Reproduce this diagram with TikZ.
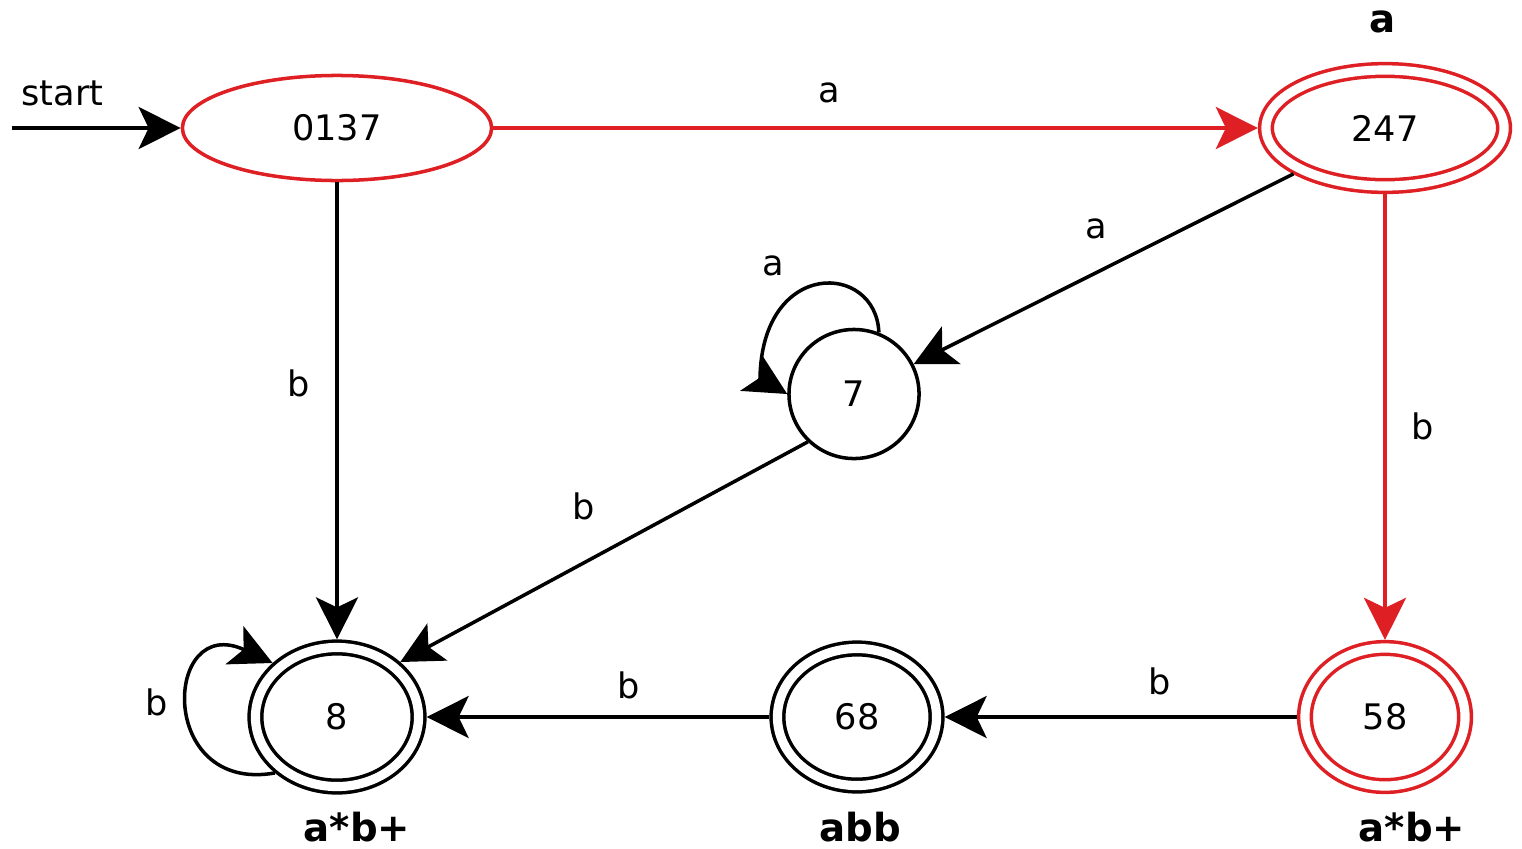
\documentclass[tikz,border=0pt]{standalone}
\usepackage{fontspec}
\setmainfont{DejaVu Sans}
\usepackage{xcolor}
\usepackage{tikz}
\usetikzlibrary{arrows.meta,positioning,shapes.geometric}
\definecolor{dfared}{RGB}{222,32,36}

\begin{document}
\begin{tikzpicture}[
  x=0.01cm, y=0.01cm,
  font=\fontsize{10}{12}\selectfont,
  dstate/.style={draw, ellipse, line width=1pt, inner sep=0pt},
  accept/.style={dstate, double, double distance=2.6pt, outer sep=2.3pt},
  hot/.style={draw=dfared},
  tag/.style={inner sep=0pt, font=\fontsize{11}{13}\selectfont\bfseries},
  lbl/.style={inner sep=0pt},
  arr/.style={-{Stealth[length=0.42cm, width=0.42cm, inset=0.1cm]}, line width=1pt},
  hotarr/.style={arr, draw=dfared}
]
\useasboundingbox (0,0) rectangle (1522,-848);

% states
\node[dstate, hot, minimum width=3.09cm, minimum height=1.05cm] (n0137) at (337,-128) {0137};
\node[accept, hot, minimum width=2.38cm, minimum height=1.16cm] (n247) at (1385,-128) {247};
\node[dstate, minimum width=1.3cm, minimum height=1.29cm] (n7) at (854,-394) {7};
\node[accept, minimum width=1.63cm, minimum height=1.39cm] (n8) at (337,-717) {8};
\node[accept, minimum width=1.59cm, minimum height=1.37cm] (n68) at (857,-717) {68};
\node[accept, hot, minimum width=1.6cm, minimum height=1.38cm] (n58) at (1385,-717) {58};

% patterns under the final states
\node[tag] (t247) at (1383,-22) {a};
\node[tag] (t8) at (357,-827) {a*b+};
\node[tag] (t68) at (860,-827) {abb};
\node[tag] (t58) at (1412,-827) {a*b+};

\coordinate (entry) at (12,-128);

% transitions
\draw[arr] (entry) -- node[lbl, pos=0.3, above=5.8pt] (lstart) {start} (n0137);
\draw[hotarr] (n0137) -- node[lbl, pos=0.44, above=6.6pt] (l1) {a} (n247);
\draw[hotarr] (n247) -- node[lbl, pos=0.52, right=7pt] (l2) {b} (n58);
\draw[arr] (n0137) -- node[lbl, pos=0.44, left=7.3pt] (l3) {b} (n8);
\draw[arr] (n247) -- node[lbl, pos=0.52, above=9.2pt] (l4) {a} (n7);
\draw[arr] (n7.226) -- node[lbl, pos=0.55, above=11.8pt] (l5) {b} (n8.41);
\draw[arr] (n58) -- node[lbl, pos=0.39, above=5.8pt] (l6) {b} (n68);
\draw[arr] (n68) -- node[lbl, pos=0.41, above=4.7pt] (l7) {b} (n8);
% self loops
\draw[arr] (n7.68) .. controls (876,-262) and (762,-258) .. (760,-378)
  node[lbl, pos=0.8, above=12pt] (l8) {a} -- (n7.180);
\draw[arr] (n8.222) to[out=190, in=155, looseness=2.8] node[lbl, pos=0.52, left=5.5pt] (l9) {b} (n8.140);
\end{tikzpicture}
\end{document}
